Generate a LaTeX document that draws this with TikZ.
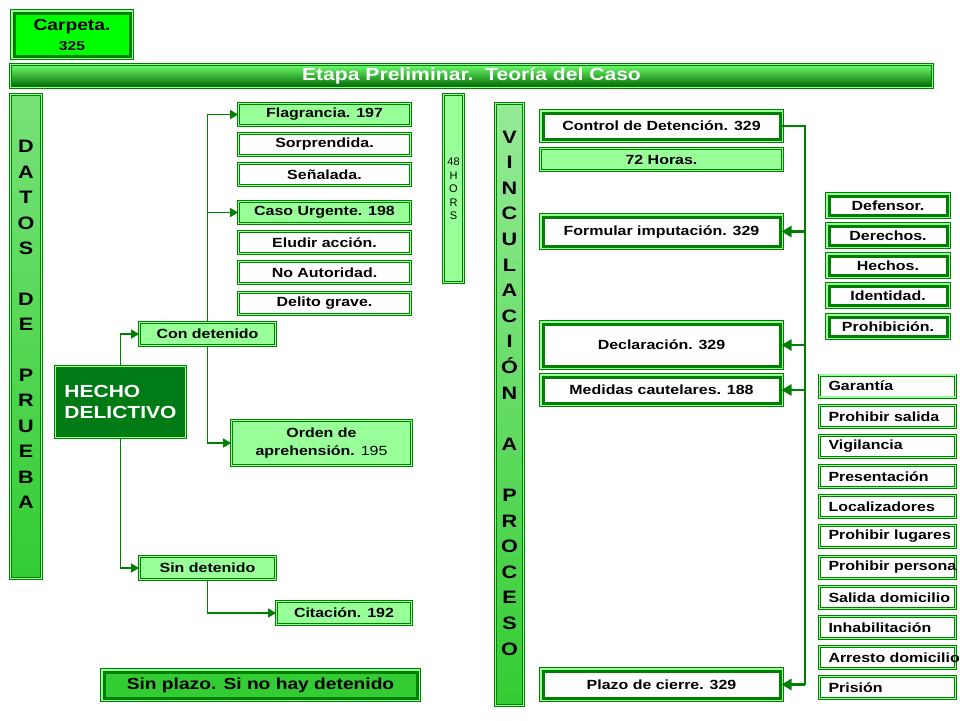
\documentclass[tikz,border=0pt]{standalone}
\usepackage{fontspec}
\setmainfont[FakeStretch=1.2]{Liberation Sans}
\newfontfamily\plainsans{Liberation Sans}
\usetikzlibrary{arrows.meta}
\definecolor{dkgreen}{RGB}{0,128,0}
\definecolor{ltgreen}{RGB}{153,255,153}
\definecolor{limegreen}{RGB}{0,255,0}
\definecolor{midgreen}{RGB}{51,204,51}
\definecolor{hechogreen}{RGB}{0,122,20}
\definecolor{bartop}{RGB}{110,255,110}
\definecolor{barbot}{RGB}{0,100,0}
\definecolor{coltop}{RGB}{150,235,150}

\begin{document}
\begin{tikzpicture}
  \tikzset{
    dblbox/.style={
      draw=dkgreen,
      double=ltgreen,
      double distance=1.5pt,
      line width=0.75pt,
      inner sep=0pt,
      font=\bfseries\fontsize{13.3}{15}\selectfont,
      text centered
    },
    lightbox/.style={dblbox, fill=ltgreen},
    whitebox/.style={dblbox, fill=white},
    thickbox/.style={
      preaction={draw=dkgreen, line width=8pt},
      preaction={draw=ltgreen, line width=6.5pt},
      draw=dkgreen,
      line width=3pt,
      fill=white,
      inner sep=0pt,
      font=\bfseries\fontsize{13.3}{15}\selectfont,
      text centered
    },
    leftbox/.style={whitebox, minimum width=136pt, minimum height=22pt,
      text width=118pt, inner xsep=9pt, align=left},
    sidebox/.style={thickbox, minimum width=118pt, minimum height=19pt},
    colletters/.style={align=center, inner sep=0pt,
      font=\bfseries\fontsize{18}{25.4}\selectfont},
    link/.style={draw=dkgreen, line width=1.2pt,
      -{Triangle[length=8pt,width=9pt]}},
    buslink/.style={draw=dkgreen, line width=2.5pt,
      -{Triangle[length=10pt,width=11pt]}}
  }

  \useasboundingbox (0pt,0pt) rectangle (960pt,-720pt);

  \node[thickbox, fill=limegreen, minimum width=116pt, minimum height=43pt,
    align=center, font=\bfseries\fontsize{16}{20}\selectfont]
    (carpeta) at (72pt,-34.5pt) {Carpeta.\\{\fontsize{13}{14}\selectfont 325}};
  \node[dblbox, top color=bartop, bottom color=barbot, minimum width=922pt,
    minimum height=23pt, text=white, font=\bfseries\fontsize{17.6}{18}\selectfont]
    (titulo) at (471.5pt,-76pt) {Etapa Preliminar.\ \ Teoría del Caso};

  \node[dblbox, top color=coltop!70!midgreen, bottom color=midgreen,
    minimum width=31pt, minimum height=484pt] (datos) at (26pt,-336.5pt) {};
  \node[colletters] (datosL) at (26pt,-324.5pt)
    {D\\A\\T\\O\\S\\[25.4pt]D\\E\\[25.4pt]P\\R\\U\\E\\B\\A};

  \node[lightbox, minimum width=20pt, minimum height=188pt] (horas) at (453.5pt,-188.5pt) {};
  \node[align=center, inner sep=0pt, font=\plainsans\fontsize{11}{13.5}\selectfont]
    (horasL) at (453.5pt,-189pt) {48\\H\\O\\R\\S};

  \node[dblbox, top color=coltop, bottom color=midgreen,
    minimum width=28pt, minimum height=602pt] (vinc) at (509.5pt,-404.5pt) {};
  \node[colletters, font=\bfseries\fontsize{18}{25.6}\selectfont] (vincL) at (509.5pt,-393pt)
    {V\\I\\N\\C\\U\\L\\A\\C\\I\\Ó\\N\\[25.6pt]A\\[25.6pt]P\\R\\O\\C\\E\\S\\O};

  \node[dblbox, fill=hechogreen, minimum width=130pt, minimum height=71pt,
    text=white, align=left, font=\bfseries\fontsize{17.5}{21}\selectfont]
    (hecho) at (120.5pt,-402pt) {HECHO\\DELICTIVO};
  \node[lightbox, minimum width=136pt, minimum height=23pt] (con) at (207.5pt,-334pt) {Con detenido};
  \node[lightbox, minimum width=136pt, minimum height=23pt] (sin) at (207.5pt,-568pt) {Sin detenido};

  \node[lightbox, minimum width=172pt, minimum height=22pt] (flag) at (324.5pt,-114.5pt) {Flagrancia. 197};
  \node[whitebox, minimum width=172pt, minimum height=22pt] (sorp) at (324.5pt,-144.5pt) {Sorprendida.};
  \node[whitebox, minimum width=172pt, minimum height=22pt] (senal) at (324.5pt,-174.5pt) {Señalada.};
  \node[lightbox, minimum width=172pt, minimum height=22pt] (urg) at (324.5pt,-212.5pt) {Caso Urgente. 198};
  \node[whitebox, minimum width=172pt, minimum height=22pt] (eludir) at (324.5pt,-242.5pt) {Eludir acción.};
  \node[whitebox, minimum width=172pt, minimum height=22pt] (noaut) at (324.5pt,-272.5pt) {No Autoridad.};
  \node[whitebox, minimum width=172pt, minimum height=22pt] (delito) at (324.5pt,-303.5pt) {Delito grave.};

  \node[lightbox, minimum width=180pt, minimum height=45pt, align=center,
    font=\bfseries\fontsize{13.3}{18}\selectfont]
    (orden) at (321.5pt,-443pt) {Orden de\\aprehensión. {\mdseries 195}};
  \node[lightbox, minimum width=135pt, minimum height=23pt] (cit) at (344pt,-613pt) {Citación. 192};
  \node[thickbox, fill=midgreen, minimum width=313pt, minimum height=26pt,
    font=\bfseries\fontsize{16}{18}\selectfont]
    (sinplazo) at (260.5pt,-685pt) {Sin plazo. Si no hay detenido};

  \node[thickbox, minimum width=237pt, minimum height=26pt] (ctrl) at (661.5pt,-126pt) {Control de Detención. 329};
  \node[lightbox, minimum width=242pt, minimum height=22pt] (horas72) at (661.5pt,-159.5pt) {72 Horas.};
  \node[thickbox, minimum width=237pt, minimum height=29pt] (formu) at (661.5pt,-231.5pt) {Formular imputación. 329};
  \node[thickbox, minimum width=237pt, minimum height=42pt] (decl) at (661.5pt,-345pt) {Declaración. 329};
  \node[thickbox, minimum width=237pt, minimum height=26pt] (medidas) at (661.5pt,-390pt) {Medidas cautelares. 188};
  \node[thickbox, minimum width=237pt, minimum height=27pt] (plazo) at (661.5pt,-684.5pt) {Plazo de cierre. 329};

  \node[sidebox] (defensor) at (888pt,-205.5pt) {Defensor.};
  \node[sidebox] (derechos) at (888pt,-235.5pt) {Derechos.};
  \node[sidebox] (hechos) at (888pt,-265.5pt) {Hechos.};
  \node[sidebox] (identidad) at (888pt,-295.5pt) {Identidad.};
  \node[sidebox] (prohib) at (888pt,-326.5pt) {Prohibición.};

  \node[leftbox] (garantia) at (887.5pt,-386pt) {\mbox{Garantía}};
  \node[leftbox] (salida) at (887.5pt,-416.5pt) {\mbox{Prohibir salida}};
  \node[leftbox] (vigil) at (887.5pt,-446.5pt) {\mbox{Vigilancia}};
  \node[leftbox] (present) at (887.5pt,-476.5pt) {\mbox{Presentación}};
  \node[leftbox] (localiz) at (887.5pt,-506.5pt) {\mbox{Localizadores}};
  \node[leftbox] (lugares) at (887.5pt,-536.5pt) {\mbox{Prohibir lugares}};
  \node[leftbox] (persona) at (887.5pt,-567.5pt) {\mbox{Prohibir persona}};
  \node[leftbox] (saldom) at (887.5pt,-597.5pt) {\mbox{Salida domicilio}};
  \node[leftbox] (inhab) at (887.5pt,-627.5pt) {\mbox{Inhabilitación}};
  \node[leftbox] (arresto) at (887.5pt,-657.5pt) {\mbox{Arresto domicilio}};
  \node[leftbox] (prision) at (887.5pt,-687.5pt) {\mbox{Prisión}};

  \draw[link] (hecho.north) |- (con.west);
  \draw[link] (hecho.south) |- (sin.west);
  \draw[link] (con.north) |- (flag.west);
  \draw[link] (con.north) |- (urg.west);
  \draw[link] (con.south) |- (orden.west);
  \draw[link] (sin.south) |- (cit.west);

  \coordinate (bus) at (805pt,-126pt);
  \draw[dkgreen, line width=2.5pt] (ctrl.east) -- (bus) -- (bus |- plazo.east);
  \draw[buslink] (bus |- formu.east) -- (formu.east);
  \draw[buslink] (bus |- decl.east) -- (decl.east);
  \draw[buslink] (bus |- medidas.east) -- (medidas.east);
  \draw[buslink] (bus |- plazo.east) -- (plazo.east);
\end{tikzpicture}
\end{document}
